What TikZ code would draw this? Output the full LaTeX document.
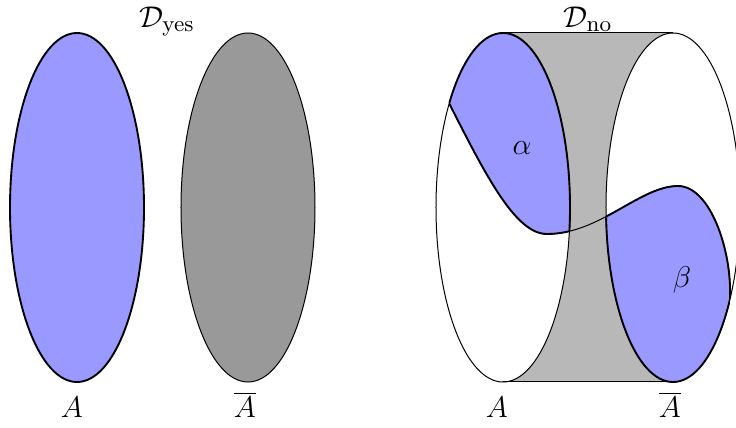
\documentclass[tikz,border=0pt]{standalone}
\definecolor{bfill}{RGB}{153,153,255}
\definecolor{gdark}{RGB}{153,153,153}
\definecolor{glight}{RGB}{184,184,184}
\tikzset{
  ell/.style={x radius=26.8pt, y radius=69.8pt},
  thinline/.style={line width=0.4pt},
  blueline/.style={line width=0.75pt},
  lab/.style={anchor=base, inner sep=0pt},
}
\def\mycurve{(449.5,324) .. controls (487,250) and (516,194) .. (547,194) .. controls (600,194) and (640,242) .. (678,242) .. controls (710,242) and (732,178) .. (730,130)}
\def\alphapoly{(399,424) -- \mycurve -- (800,130) -- (800,500) -- (399,500) -- cycle}
\def\betapoly{(399,424) -- \mycurve -- (726,0) -- (399,0) -- cycle}
\begin{document}
\begin{tikzpicture}[x=0.4pt,y=0.4pt,font=\fontsize{12.3}{14}\selectfont]
\useasboundingbox (0,0) rectangle (736,428);
% left pair
\filldraw[fill=bfill, blueline] (77,220.5) ellipse [ell];
\filldraw[fill=gdark, thinline] (248,220.5) ellipse [ell];
% right: gray band
\fill[glight] (503,395) -- (673,395) arc[start angle=90, end angle=270, ell] -- (503,46) arc[start angle=-90, end angle=90, ell] -- cycle;
\draw[thinline] (503,395) -- (673,395) (503,46) -- (673,46);
\draw[thinline] (503,220.5) ellipse [ell] (673,220.5) ellipse [ell];
% alpha
\begin{scope}
  \clip (503,220.5) ellipse [ell];
  \fill[bfill] \alphapoly;
  \draw[blueline] \mycurve;
\end{scope}
\begin{scope}
  \clip \alphapoly;
  \draw[blueline] (503,220.5) ellipse [ell];
\end{scope}
% beta
\begin{scope}
  \clip (673,220.5) ellipse [ell];
  \fill[bfill] \betapoly;
  \draw[blueline] \mycurve;
\end{scope}
\begin{scope}
  \clip \betapoly;
  \draw[blueline] (673,220.5) ellipse [ell];
\end{scope}
\draw[thinline] \mycurve;
% labels
\node[lab] (dyes) at (167,401) {$\mathcal{D}_{\mathrm{yes}}$};
\node[lab] (dno) at (588,401) {$\mathcal{D}_{\mathrm{no}}$};
\node[lab] (a1) at (72,10) {$A$};
\node[lab] (ab1) at (245,10) {$\overline{A}$};
\node[lab] (a2) at (497,10) {$A$};
\node[lab] (ab2) at (670,10) {$\overline{A}$};
\node (al) at (522,280) {$\alpha$};
\node (be) at (682,148) {$\beta$};
\end{tikzpicture}
\end{document}
